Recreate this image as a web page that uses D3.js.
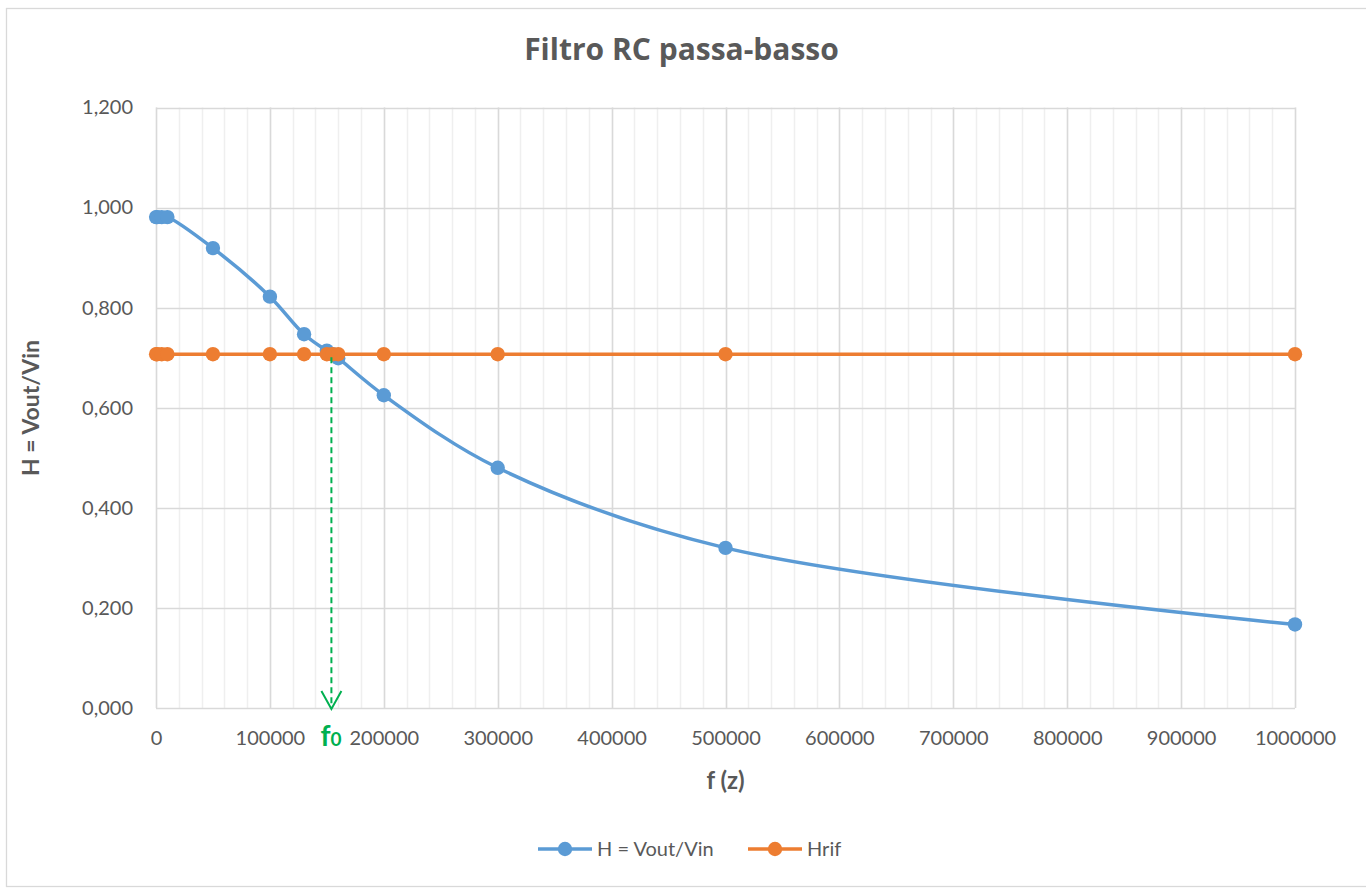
<!DOCTYPE html>
<html><head><meta charset="utf-8">
<script src="https://cdn.jsdelivr.net/npm/d3@7"></script>
<style>body{margin:0;background:#fff}svg{display:block}</style>
</head><body><svg id="c" width="1366" height="888"></svg>
<script>
// ---- data ----
const freq = [100, 1000, 5000, 10000, 50000, 100000, 130000, 150000, 155000, 160000, 200000, 300000, 500000, 1000000];
const hValues = [0.981, 0.981, 0.981, 0.981, 0.919, 0.822, 0.747, 0.714, 0.707, 0.699, 0.625, 0.480, 0.320, 0.167];
const hrifValues = [0.707, 0.707, 0.707, 0.707, 0.707, 0.707, 0.707, 0.707, 0.707, 0.707, 0.707, 0.707, 0.707, 0.707];
const seriesNames = ["H = Vout/Vin", "Hrif"];
const xTicks = [0, 100000, 200000, 300000, 400000, 500000, 600000, 700000, 800000, 900000, 1000000];
const yTicks = [0, 0.2, 0.4, 0.6, 0.8, 1.0, 1.2];
const f0 = 154000;
const title = "Filtro RC passa-basso";
const xTitle = "f (z)";
const yTitle = "H = Vout/Vin";

// ---- chart ----
const svg = d3.select("#c").attr("font-family", "Lato, 'Open Sans', sans-serif");
const colors = ["#5B9BD5", "#ED7D31"];
const textCol = "#595959";
const x = d3.scaleLinear().domain([0, 1000000]).range([156, 1295]);
const y = d3.scaleLinear().domain([0, 1.2]).range([708, 107.5]);

svg.append("rect").attr("x", 6.5).attr("y", 8.5).attr("width", 1365).attr("height", 878)
  .attr("fill", "#fff").attr("stroke", "#d9d9d9").attr("stroke-width", 1.3);

// minor vertical grid
svg.append("g").selectAll("line").data(x.ticks(50)).join("line")
  .attr("x1", d => Math.round(x(d)) + 0.5).attr("x2", d => Math.round(x(d)) + 0.5)
  .attr("y1", y(0)).attr("y2", y(1.2)).attr("stroke", "#efefef").attr("stroke-width", 1.5);
// major vertical grid
svg.append("g").selectAll("line").data(xTicks).join("line")
  .attr("x1", d => Math.round(x(d)) + 0.5).attr("x2", d => Math.round(x(d)) + 0.5)
  .attr("y1", y(0)).attr("y2", y(1.2)).attr("stroke", "#d9d9d9").attr("stroke-width", 1.5);
// major horizontal grid
svg.append("g").selectAll("line").data(yTicks).join("line")
  .attr("x1", x(0)).attr("x2", x(1000000))
  .attr("y1", d => Math.round(y(d)) + 0.5).attr("y2", d => Math.round(y(d)) + 0.5)
  .attr("stroke", "#d9d9d9").attr("stroke-width", 1.5);

// axes labels via d3 axes
const fmtY = v => d3.format(".3f")(v).replace(".", ",");
const xAxis = svg.append("g").attr("transform", `translate(0,${y(0)})`)
  .call(d3.axisBottom(x).tickValues(xTicks).tickFormat(d3.format("d")).tickSize(0).tickPadding(23));
const yAxis = svg.append("g").attr("transform", `translate(${x(0)},0)`)
  .call(d3.axisLeft(y).tickValues(yTicks).tickFormat(fmtY).tickSize(0).tickPadding(23));
[xAxis, yAxis].forEach(a => {
  a.select(".domain").remove();
  a.attr("font-family", null).attr("font-size", null);
  a.selectAll("text").attr("fill", textCol).attr("font-size", 20).attr("font-family", "Lato");
});

// series
const line = d3.line().x(d => x(d[0])).y(d => y(d[1])).curve(d3.curveCatmullRom);
[hValues, hrifValues].forEach((vals, i) => {
  const pts = freq.map((f, j) => [f, vals[j]]);
  const g = svg.append("g");
  g.append("path").attr("d", line(pts)).attr("fill", "none")
    .attr("stroke", colors[i]).attr("stroke-width", 3.5).attr("stroke-linejoin", "round");
  g.selectAll("circle").data(pts).join("circle")
    .attr("cx", d => x(d[0])).attr("cy", d => y(d[1])).attr("r", 7.2).attr("fill", colors[i]);
});

// f0 annotation
const green = "#00B050";
const ax = x(f0);
svg.append("line").attr("x1", ax).attr("x2", ax).attr("y1", y(0.707) + 3).attr("y2", y(0) - 3)
  .attr("stroke", green).attr("stroke-width", 2).attr("stroke-dasharray", "6,4");
svg.append("polyline")
  .attr("points", `${ax - 10},${y(0) - 17} ${ax},${y(0) + 1} ${ax + 10},${y(0) - 17}`)
  .attr("fill", "none").attr("stroke", green).attr("stroke-width", 2);
const fl = svg.append("text").attr("x", ax - 11).attr("y", 746).attr("fill", green)
  .attr("font-family", "Lato").attr("font-weight", "bold");
fl.append("tspan").attr("font-size", 28).text("f");
fl.append("tspan").attr("font-size", 19).text("0");

// titles
svg.append("text").attr("x", 681.5).attr("y", 60).attr("text-anchor", "middle")
  .style("font-family", "'Open Sans', sans-serif")
  .attr("font-size", 30).attr("font-weight", "bold").attr("fill", textCol).text(title);
svg.append("text").attr("x", 725.5).attr("y", 789).attr("text-anchor", "middle")
  .attr("font-size", 24).attr("font-weight", "bold").attr("fill", textCol).text(xTitle);
svg.append("text").attr("transform", "translate(39,408) rotate(-90)").attr("text-anchor", "middle")
  .attr("font-size", 23).attr("font-weight", "bold").attr("fill", textCol).text(yTitle);

// legend
const legX = [538, 748];
seriesNames.forEach((n, i) => {
  const g = svg.append("g").attr("transform", `translate(${legX[i]},849)`);
  g.append("line").attr("x1", 0).attr("x2", 54).attr("stroke", colors[i]).attr("stroke-width", 3.5);
  g.append("circle").attr("cx", 27).attr("r", 7.2).attr("fill", colors[i]);
  g.append("text").attr("x", 59).attr("y", 7).attr("font-size", 20).attr("fill", textCol).text(n);
});
</script></body></html>
